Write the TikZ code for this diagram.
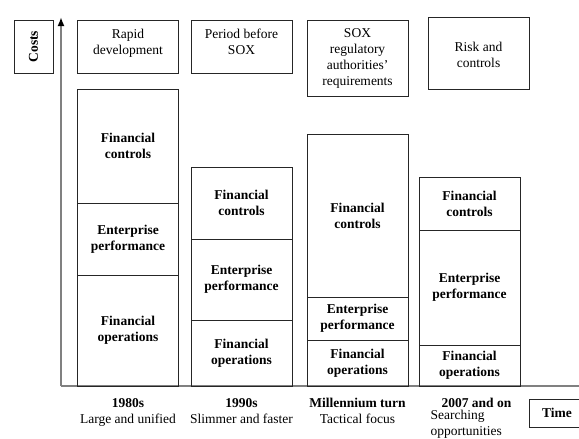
\documentclass[tikz,border=0pt]{standalone}
\usepackage{fontspec}
\setmainfont{Liberation Serif}
\usetikzlibrary{positioning,arrows.meta}

\newcommand{\diagfont}{\fontsize{13.5}{16}\selectfont}

\tikzset{
    box/.style={draw=black!85, line width=0.9pt, inner sep=2pt, outer sep=0pt,
        minimum width=101pt, align=center, font=\diagfont},
    seg/.style={box, font=\diagfont\bfseries},
    axis/.style={draw=black!50, line width=1.8pt},
    era/.style={align=center, inner sep=1pt, font=\diagfont},
}

\begin{document}
\begin{tikzpicture}[x=1pt, y=-1pt]
    \useasboundingbox (0,0) rectangle (579,439);

    \coordinate (origin) at (61,386);
    \coordinate (ytop) at (61,17);
    \coordinate (xend) at (590,386);

    \draw[axis] (origin) -- (xend);
    \draw[axis, -{Latex[black,length=9pt,width=7pt]}] (origin) -- (ytop);

    \node[box, rotate=90, minimum width=53pt, minimum height=39pt, font=\diagfont\bfseries] (costs) at (33.5,46.5) {Costs};
    \node[box, minimum width=56pt, minimum height=28pt, font=\diagfont\bfseries] (time) at (557,413) {Time};

    \node[box, minimum height=53pt, text depth=9pt] (rapid) at (128,46.5) {Rapid\\development};
    \node[box, minimum height=53pt, text depth=9pt] (period) at (241.5,46.5) {Period before\\SOX};
    \node[box, minimum height=76pt] (sox) at (357.5,58) {SOX\\regulatory\\authorities'\\requirements};
    \node[box, minimum height=72pt] (risk) at (478.5,53) {\\[-3pt]Risk and\\controls};

    \node[seg, minimum height=111pt, anchor=south] (fo1) at (128,386) {Financial\\operations};
    \node[seg, minimum height=72pt, above=0pt of fo1] (ep1) {Enterprise\\performance};
    \node[seg, minimum height=114pt, above=0pt of ep1] (fc1) {Financial\\controls};

    \node[seg, minimum height=66pt, anchor=south] (fo2) at (241.5,386) {Financial\\operations};
    \node[seg, minimum height=81pt, above=0pt of fo2] (ep2) {Enterprise\\performance};
    \node[seg, minimum height=72pt, above=0pt of ep2] (fc2) {Financial\\controls};

    \node[seg, minimum height=46pt, anchor=south] (fo3) at (357.5,386) {Financial\\operations};
    \node[seg, minimum height=43pt, above=0pt of fo3] (ep3) {Enterprise\\performance};
    \node[seg, minimum height=163pt, above=0pt of ep3] (fc3) {Financial\\controls};

    \node[seg, minimum height=41pt, anchor=south] (fo4) at (469.5,386) {Financial\\operations};
    \node[seg, minimum height=115pt, above=0pt of fo4] (ep4) {Enterprise\\performance};
    \node[seg, minimum height=53pt, above=0pt of ep4] (fc4) {Financial\\controls};

    \node[era, below=11pt of fo1] (t1) {\textbf{1980s}\\Large and unified};
    \node[era, below=11pt of fo2] (t2) {\textbf{1990s}\\Slimmer and faster};
    \node[era, below=11pt of fo3] (t3) {\textbf{Millennium turn}\\Tactical focus};
    \node[era, below=11pt of fo4, xshift=7pt] (t4) {\textbf{2007 and on}};
    \node[era, align=left, anchor=north west, xshift=-11pt] (d4) at (t4.south west) {Searching\\opportunities};
\end{tikzpicture}
\end{document}
